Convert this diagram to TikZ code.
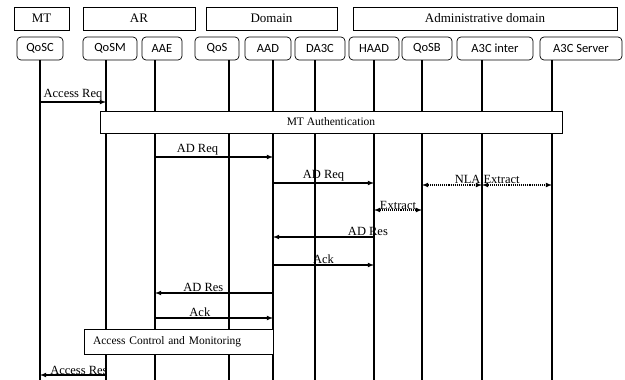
\documentclass[tikz,border=0pt]{standalone}
\usepackage{fontspec}
\setmainfont{Liberation Serif}
\newfontfamily\boxfont{Carlito}
\begin{document}
\begin{tikzpicture}[x=1pt,y=-1pt,
    head/.style={draw,line width=0.7pt,minimum height=23pt,inner sep=0pt,font=\fontsize{13}{14}\selectfont},
    comp/.style={draw,line width=0.7pt,rounded corners=4pt,minimum height=23pt,inner sep=0pt,font=\boxfont\fontsize{12.5}{14}\selectfont},
    life/.style={line width=2pt},
    msg/.style={line width=1.1pt,-latex},
    ext/.style={line width=1.1pt,densely dotted,latex-latex},
    lbl/.style={inner sep=1pt,font=\fontsize{12.5}{14}\selectfont},
    band/.style={draw,fill=white,line width=0.7pt,inner sep=0pt,font=\fontsize{11.5}{13}\selectfont}]
  \useasboundingbox (0,0) rectangle (625,380);
  % entities
  \node[head,minimum width=55pt] (mt) at (41.5,18.5) {MT};
  \node[head,minimum width=112pt] (ar) at (139,18.5) {AR};
  \node[head,minimum width=131pt] (dom) at (271.5,18.5) {Domain};
  \node[head,minimum width=264pt] (adm) at (485,18.5) {Administrative domain};
  \node[comp,minimum width=46pt] (qosc) at (40,48.5) {QoSC};
  \node[comp,minimum width=54pt] (qosm) at (110,48.5) {QoSM};
  \node[comp,minimum width=40pt] (aae) at (162,48.5) {AAE};
  \node[comp,minimum width=44pt] (qos) at (217,48.5) {QoS};
  \node[comp,minimum width=46pt] (aad) at (268,48.5) {AAD};
  \node[comp,minimum width=50pt] (da3c) at (320,48.5) {DA3C};
  \node[comp,minimum width=50pt] (haad) at (374,48.5) {HAAD};
  \node[comp,minimum width=50pt] (qosb) at (427,48.5) {QoSB};
  \node[comp,minimum width=76pt] (a3ci) at (495,48.5) {A3C inter};
  \node[comp,minimum width=82pt] (a3cs) at (581,48.5) {A3C Server};
  % lifelines
  \coordinate (qoscE) at (40,380);
  \coordinate (qosmE) at (106,380);
  \coordinate (aaeE) at (155,380);
  \coordinate (qosE) at (229,380);
  \coordinate (aadE) at (273,380);
  \coordinate (da3cE) at (315,380);
  \coordinate (haadE) at (374,380);
  \coordinate (qosbE) at (422,380);
  \coordinate (a3ciE) at (482,380);
  \coordinate (a3csE) at (552,380);
  \draw[life] (qosc.south -| qoscE) -- (qoscE);
  \draw[life] (qosm.south -| qosmE) -- (qosmE);
  \draw[life] (aae.south -| aaeE) -- (aaeE);
  \draw[life] (qos.south -| qosE) -- (qosE);
  \draw[life] (aad.south -| aadE) -- (aadE);
  \draw[life] (da3c.south -| da3cE) -- (da3cE);
  \draw[life] (haad.south -| haadE) -- (haadE);
  \draw[life] (qosb.south -| qosbE) -- (qosbE);
  \draw[life] (a3ci.south -| a3ciE) -- (a3ciE);
  \draw[life] (a3cs.south -| a3csE) -- (a3csE);
  % messages
  \draw[msg] (qoscE |- 0,102) -- (qosmE |- 0,102) node[lbl,midway,above] {Access Req};
  \node[band,minimum width=462pt,minimum height=22pt] (mtauth) at (331,122) {MT Authentication};
  \draw[msg] (aaeE |- 0,157) -- (aadE |- 0,157) node[lbl,pos=0.36,above] {AD Req};
  \draw[msg] (aadE |- 0,183) -- (haadE |- 0,183) node[lbl,midway,above] {AD Req};
  \draw[ext] (qosbE |- 0,185) -- (a3ciE |- 0,185) node[lbl,pos=1,above left] {NLA};
  \draw[ext] (a3ciE |- 0,185) -- (a3csE |- 0,185) node[lbl,pos=0,above right] {Extract};
  \draw[ext] (haadE |- 0,210) -- (qosbE |- 0,210) node[lbl,midway,above,inner sep=0pt] {Extract};
  \draw[msg] (haadE |- 0,237) -- (aadE |- 0,237) node[lbl,pos=0.06,above] {AD Res};
  \draw[msg] (aadE |- 0,265) -- (haadE |- 0,265) node[lbl,midway,above] {Ack};
  \draw[msg] (aadE |- 0,293) -- (aaeE |- 0,293) node[lbl,pos=0.59,above] {AD Res};
  \draw[msg] (aaeE |- 0,318) -- (aadE |- 0,318) node[lbl,pos=0.38,above] {Ack};
  \node[band,minimum height=25pt,text width=171pt,inner xsep=9pt,align=left] (acm) at (178.5,341.5) {Access Control and Monitoring};
  \draw[msg] (qosmE |- 0,375) -- (qoscE |- 0,375) node[lbl,pos=0.41,above,inner sep=0pt] {Access Res};
\end{tikzpicture}
\end{document}
